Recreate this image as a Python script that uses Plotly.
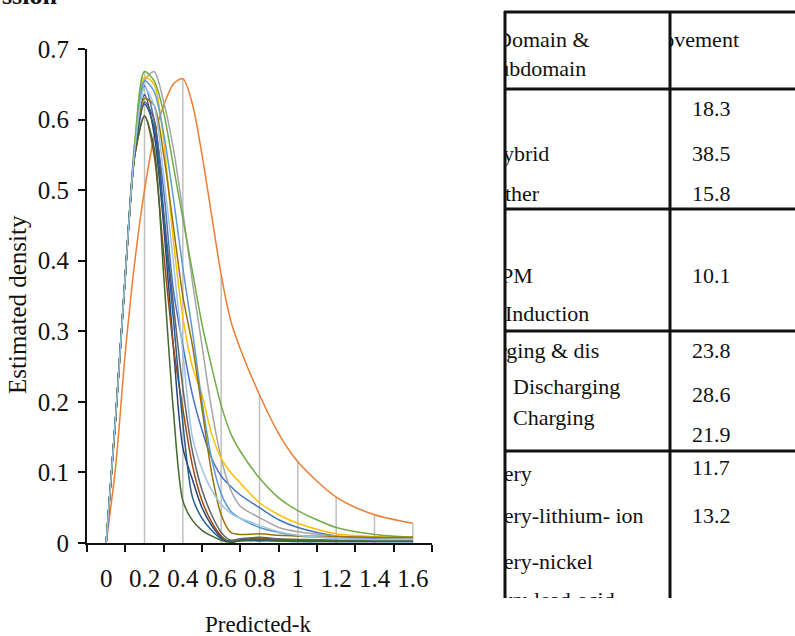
import plotly.graph_objects as go

# ---------------- data ----------------
X = [0, 0.05, 0.1, 0.15, 0.2, 0.25, 0.3, 0.35, 0.4, 0.45, 0.5, 0.55, 0.6, 0.65, 0.7,
     0.8, 0.9, 1.0, 1.2, 1.4, 1.6]

S_BLUE = [0, 0.18, 0.38, 0.56, 0.648, 0.6, 0.5, 0.36, 0.28, 0.21, 0.16, 0.12, 0.095, 0.08, 0.068,
          0.05, 0.033, 0.022, 0.01, 0.006, 0.005]
S_ORANGE = [0, 0.11, 0.27, 0.40, 0.50, 0.575, 0.62, 0.65, 0.658, 0.622, 0.55, 0.465, 0.38, 0.315, 0.275,
            0.21, 0.155, 0.115, 0.065, 0.04, 0.028]
S_GRAY = [0, 0.18, 0.38, 0.56, 0.655, 0.668, 0.625, 0.56, 0.47, 0.37, 0.28, 0.19, 0.12, 0.075, 0.052,
          0.036, 0.022, 0.016, 0.01, 0.008, 0.007]
S_GOLD = [0, 0.18, 0.38, 0.57, 0.66, 0.65, 0.57, 0.43, 0.32, 0.25, 0.21, 0.155, 0.12, 0.1, 0.085,
          0.057, 0.04, 0.028, 0.013, 0.009, 0.008]
S_LIGHTBLUE = [0, 0.18, 0.38, 0.565, 0.655, 0.64, 0.58, 0.49, 0.39, 0.3, 0.2, 0.12, 0.07, 0.045, 0.035,
               0.022, 0.015, 0.01, 0.007, 0.005, 0.005]
S_GREEN = [0, 0.18, 0.38, 0.57, 0.668, 0.655, 0.61, 0.535, 0.46, 0.385, 0.31, 0.25, 0.195, 0.155, 0.13,
           0.092, 0.064, 0.046, 0.022, 0.012, 0.008]
S_DARKBLUE = [0, 0.18, 0.38, 0.56, 0.635, 0.58, 0.45, 0.28, 0.135, 0.09, 0.05, 0.025, 0.008, 0.002, 0.004,
              0.004, 0.003, 0.003, 0.002, 0.002, 0.002]
S_BROWN = [0, 0.18, 0.38, 0.55, 0.605, 0.55, 0.41, 0.28, 0.19, 0.11, 0.06, 0.03, 0.01, 0.001, 0.004,
           0.007, 0.005, 0.004, 0.003, 0.003, 0.003]
S_DARKGRAY = [0, 0.18, 0.38, 0.555, 0.625, 0.6, 0.47, 0.34, 0.22, 0.13, 0.075, 0.04, 0.015, 0.004, 0.006,
              0.008, 0.006, 0.005, 0.004, 0.003, 0.003]
S_DARKGOLD = [0, 0.18, 0.38, 0.555, 0.63, 0.62, 0.55, 0.45, 0.35, 0.28, 0.19, 0.1, 0.04, 0.015, 0.012,
              0.013, 0.011, 0.01, 0.009, 0.008, 0.008]
S_STEELBLUE = [0, 0.18, 0.38, 0.555, 0.622, 0.59, 0.46, 0.32, 0.17, 0.065, 0.035, 0.018, 0.006, 0.002, 0.003,
               0.003, 0.003, 0.002, 0.002, 0.002, 0.002]
S_DARKGREEN = [0, 0.18, 0.38, 0.55, 0.605, 0.56, 0.38, 0.19, 0.06, 0.032, 0.018, 0.01, 0.004, 0.001, 0.004,
               0.005, 0.004, 0.004, 0.003, 0.003, 0.003]
S_PALEBLUE = [0, 0.18, 0.38, 0.56, 0.645, 0.62, 0.52, 0.4, 0.27, 0.15, 0.105, 0.075, 0.055, 0.042, 0.035,
              0.025, 0.016, 0.011, 0.007, 0.005, 0.005]

X_TICK_VALUES = [0, 0.2, 0.4, 0.6, 0.8, 1.0, 1.2, 1.4, 1.6]
X_TICK_LABELS = ["0", "0.2", "0.4", "0.6", "0.8", "1", "1.2", "1.4", "1.6"]
Y_TICK_VALUES = [0, 0.1, 0.2, 0.3, 0.4, 0.5, 0.6, 0.7]
Y_TICK_LABELS = ["0", "0.1", "0.2", "0.3", "0.4", "0.5", "0.6", "0.7"]

TABLE_HEADER_LEFT = ["Domain &", "Subdomain"]
TABLE_HEADER_RIGHT = "Improvement"
TABLE_LABELS = ["Hybrid", "Other", "PM", "Induction", "Charging & dis", "Discharging",
                "Charging", "Battery", "Battery-lithium- ion", "Battery-nickel",
                "Battery-lead-acid"]
TABLE_VALUES = ["18.3", "38.5", "15.8", "10.1", "23.8", "28.6", "21.9", "11.7", "13.2"]
TITLE_FRAGMENT = "ssion"

# ---------------- styles / layout ----------------
W, H = 795, 636
FONT = "Liberation Serif, Times New Roman, serif"
INK = "#111111"

series = [
    (S_BLUE, "#4472C4"), (S_ORANGE, "#ED7D31"), (S_GRAY, "#A5A5A5"), (S_GOLD, "#FFC000"),
    (S_LIGHTBLUE, "#5B9BD5"), (S_GREEN, "#70AD47"), (S_DARKBLUE, "#264478"),
    (S_BROWN, "#9E480E"), (S_DARKGRAY, "#636363"), (S_DARKGOLD, "#997300"),
    (S_STEELBLUE, "#255E91"), (S_DARKGREEN, "#43682B"), (S_PALEBLUE, "#9DC3E6"),
]


def px_x(p):
    return p / W


def px_y(p):
    return (H - p) / H


fig = go.Figure()

# drop lines at the labelled categories, up to the highest series value
dx, dy = [], []
for xv in X_TICK_VALUES[1:]:
    i = X.index(xv)
    top = max(s[i] for s, _ in series)
    dx += [xv, xv, None]
    dy += [0, top, None]
fig.add_trace(go.Scatter(x=dx, y=dy, mode="lines", line=dict(color="#BFBFBF", width=1.5),
                         hoverinfo="skip", showlegend=False))

for vals, col in series:
    fig.add_trace(go.Scatter(x=X, y=vals, mode="lines",
                             line=dict(color=col, width=1.5, shape="spline", smoothing=0.8),
                             showlegend=False))

# ---------------- table (text clipped by hidden subplots) ----------------
col1_lines = [
    (TABLE_HEADER_LEFT[0], 496, 41), (TABLE_HEADER_LEFT[1], 486, 70),
    (TABLE_LABELS[0], 487, 155), (TABLE_LABELS[1], 489, 195),
    (TABLE_LABELS[2], 501, 277), (TABLE_LABELS[3], 505, 315),
    (TABLE_LABELS[4], 464, 352), (TABLE_LABELS[5], 513, 388),
    (TABLE_LABELS[6], 513, 419), (TABLE_LABELS[7], 467, 475),
    (TABLE_LABELS[8], 467, 517), (TABLE_LABELS[9], 467, 563),
    (TABLE_LABELS[10], 462, 601),
]
tabfont = dict(family=FONT, size=22, color=INK)
fig.add_trace(go.Scatter(x=[c[1] for c in col1_lines], y=[c[2] for c in col1_lines],
                         text=[c[0] for c in col1_lines], mode="text",
                         textposition="middle right", cliponaxis=True, textfont=tabfont,
                         xaxis="x2", yaxis="y2", showlegend=False, hoverinfo="skip"))

val_y = [110, 155, 195, 277, 352, 396, 436, 469, 517]
fig.add_trace(go.Scatter(x=[692] * len(TABLE_VALUES), y=val_y, text=TABLE_VALUES, mode="text",
                         textposition="middle right", cliponaxis=True, textfont=tabfont,
                         xaxis="x3", yaxis="y3", showlegend=False, hoverinfo="skip"))
fig.add_trace(go.Scatter(x=[739], y=[41], text=[TABLE_HEADER_RIGHT], mode="text",
                         textposition="middle left", cliponaxis=True, textfont=tabfont,
                         xaxis="x3", yaxis="y3", showlegend=False, hoverinfo="skip"))

shapes = []
for xv in (505, 670):
    shapes.append(dict(type="line", xref="paper", yref="paper", x0=px_x(xv), x1=px_x(xv),
                       y0=px_y(11), y1=px_y(598), line=dict(color=INK, width=3)))
for yv in (12, 89, 209, 331, 451):
    shapes.append(dict(type="line", xref="paper", yref="paper", x0=px_x(504), x1=1.0,
                       y0=px_y(yv), y1=px_y(yv), line=dict(color=INK, width=3)))

tickfont = dict(family=FONT, size=25, color=INK)

fig.update_layout(
    width=W, height=H, autosize=False, margin=dict(l=0, r=0, t=0, b=0, pad=0),
    paper_bgcolor="white", plot_bgcolor="white",
    shapes=shapes,
    xaxis=dict(domain=[px_x(87), px_x(432)], range=[-0.1, 1.7], automargin=False,
               tickmode="array", tickvals=X_TICK_VALUES, ticktext=X_TICK_LABELS,
               ticks="", tickfont=tickfont, ticklabelstandoff=12,
               showline=True, linecolor=INK, linewidth=2,
               showgrid=False, zeroline=False,
               minor=dict(tickmode="array", tickvals=[-0.1, 0.1, 0.3, 0.5, 0.7, 0.9, 1.1, 1.3, 1.5, 1.7],
                          ticks="outside", ticklen=7, tickwidth=1.5, tickcolor=INK,
                          showgrid=False),
               anchor="y"),
    yaxis=dict(domain=[px_y(543), px_y(49)], range=[0, 0.7], automargin=False,
               tickmode="array", tickvals=Y_TICK_VALUES, ticktext=Y_TICK_LABELS,
               ticks="outside", ticklen=7, tickwidth=1.5, tickcolor=INK,
               tickfont=tickfont, ticklabelstandoff=4,
               showline=True, linecolor=INK, linewidth=2,
               showgrid=False, zeroline=False, anchor="x"),
    xaxis2=dict(domain=[px_x(505), px_x(670)], range=[505, 670], visible=False,
                automargin=False, anchor="y2"),
    yaxis2=dict(domain=[px_y(598), px_y(12)], range=[598, 12], visible=False,
                automargin=False, anchor="x2"),
    xaxis3=dict(domain=[px_x(670), 1.0], range=[670, 795], visible=False,
                automargin=False, anchor="y3"),
    yaxis3=dict(domain=[px_y(598), px_y(12)], range=[598, 12], visible=False,
                automargin=False, anchor="x3"),
    annotations=[
        dict(text="Predicted-k", xref="paper", yref="paper", x=px_x(258), y=px_y(624),
             xanchor="center", yanchor="middle", showarrow=False,
             font=dict(family=FONT, size=23, color=INK)),
        dict(text="Estimated density", xref="paper", yref="paper", x=px_x(18), y=px_y(305),
             xanchor="center", yanchor="middle", textangle=-90, showarrow=False,
             font=dict(family=FONT, size=25, color=INK)),
        dict(text="<b>" + TITLE_FRAGMENT + "</b>", xref="paper", yref="paper", x=0, y=px_y(12),
             xanchor="left", yanchor="bottom", showarrow=False,
             font=dict(family=FONT, size=26, color=INK)),
    ],
)

fig.write_html("out.html", config={"displayModeBar": False},
               post_script="document.body.style.margin='0px';document.body.style.overflow='hidden';")
